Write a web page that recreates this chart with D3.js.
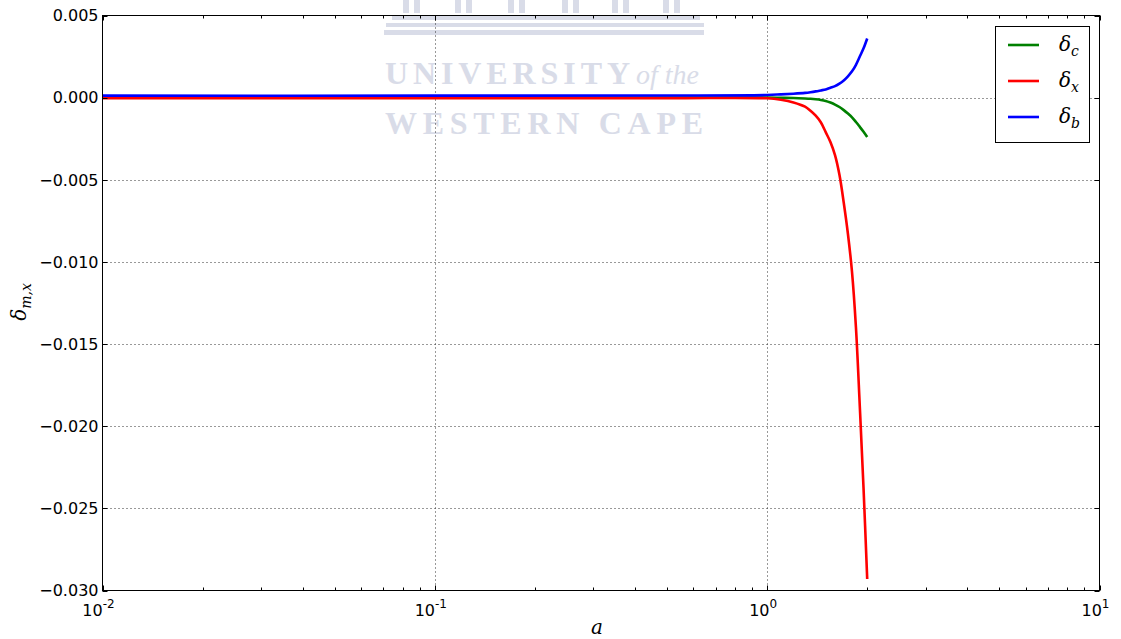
<!DOCTYPE html>
<html>
<head>
<meta charset="utf-8">
<script src="https://cdn.jsdelivr.net/npm/d3@7"></script>
<style>
  body { margin: 0; background: #fff; }
  svg { display: block; }
</style>
</head>
<body>
<svg id="chart" width="1121" height="639"></svg>
<script>
// scale factor a
var aVals = [0.01, 0.1, 0.5, 1.0, 1.1, 1.2, 1.3, 1.35, 1.4, 1.45, 1.5, 1.55, 1.6, 1.65, 1.7, 1.75, 1.8, 1.85, 1.9, 1.95, 2.0];
var deltaC = [0, 0, 0, 0, -0.00001, -0.00002, -0.00005, -0.00007, -0.0001, -0.00014, -0.0002, -0.0003, -0.00042, -0.00057, -0.00076, -0.00097, -0.0012, -0.00148, -0.00178, -0.00208, -0.0024];
var deltaX = [-0.00003, -0.00003, -0.00003, -0.00004, -0.00013, -0.00029, -0.00055, -0.0008, -0.0011, -0.0015, -0.0021, -0.0027, -0.0035, -0.0047, -0.0064, -0.0083, -0.0106, -0.014, -0.0188, -0.0238, -0.0293];
var deltaB = [0.00012, 0.00012, 0.00013, 0.00016, 0.0002, 0.00024, 0.00029, 0.00033, 0.00038, 0.00044, 0.0005, 0.0006, 0.0007, 0.00085, 0.00105, 0.0013, 0.0016, 0.002, 0.0025, 0.003, 0.0036];

var seriesNames = ["c", "x", "b"];
var seriesColors = ["#008000", "#ff0000", "#0000ff"];
var yTicks = [0.005, 0, -0.005, -0.010, -0.015, -0.020, -0.025, -0.030];
var xTicks = [0.01, 0.1, 1, 10];
var xTickExp = ["-2", "-1", "0", "1"];

var svg = d3.select("#chart"),
    pL = 102.5, pR = 1099.5, pT = 15.5, pB = 590.5;

var x = d3.scaleLog().domain([0.01, 10]).range([pL, pR]);
var y = d3.scaleLinear().domain([-0.030, 0.005]).range([pB, pT]);

// watermark
var wm = svg.append("g").attr("fill", "#d9dce8");
[403, 455, 508, 562, 612, 663].forEach(function (px) {
    wm.append("rect").attr("x", px).attr("y", 0).attr("width", 6).attr("height", 13);
    wm.append("rect").attr("x", px + 11).attr("y", 0).attr("width", 6).attr("height", 13);
});
wm.append("rect").attr("x", 392).attr("y", 15).attr("width", 308).attr("height", 5);
wm.append("rect").attr("x", 386).attr("y", 23).attr("width", 318).attr("height", 4);
wm.append("rect").attr("x", 384).attr("y", 30).attr("width", 320).attr("height", 5);
wm.append("text").attr("x", 385).attr("y", 84)
    .attr("font-family", "Liberation Serif, serif").attr("font-weight", "bold")
    .attr("font-size", 32).attr("textLength", 245).attr("lengthAdjust", "spacing")
    .text("UNIVERSITY");
wm.append("text").attr("x", 636).attr("y", 84)
    .attr("font-family", "Liberation Serif, serif").attr("font-style", "italic")
    .attr("font-size", 28).text("of the");
wm.append("text").attr("x", 385).attr("y", 134)
    .attr("font-family", "Liberation Serif, serif").attr("font-weight", "bold")
    .attr("font-size", 32).attr("textLength", 318).attr("lengthAdjust", "spacing")
    .text("WESTERN CAPE");

// grid
var grid = svg.append("g").attr("stroke", "#000").attr("stroke-width", 1)
    .attr("stroke-dasharray", "1,3").attr("opacity", 0.8);
xTicks.slice(1, -1).forEach(function (t) {
    grid.append("line").attr("x1", Math.round(x(t)) + 0.5).attr("x2", Math.round(x(t)) + 0.5)
        .attr("y1", pT).attr("y2", pB);
});
yTicks.slice(1, -1).forEach(function (t) {
    grid.append("line").attr("y1", Math.round(y(t)) + 0.5).attr("y2", Math.round(y(t)) + 0.5)
        .attr("x1", pL).attr("x2", pR);
});

// lines
var line = d3.line()
    .x(function (d) { return x(d[0]); })
    .y(function (d) { return y(d[1]); })
    .curve(d3.curveCatmullRom.alpha(0.5));

[deltaC, deltaX, deltaB].forEach(function (vals, i) {
    svg.append("path")
        .datum(aVals.map(function (a, j) { return [a, vals[j]]; }))
        .attr("fill", "none")
        .attr("stroke", seriesColors[i])
        .attr("stroke-width", 2.6)
        .attr("d", line);
});

// ticks (inward, mirrored)
var tk = svg.append("g").attr("stroke", "#000").attr("stroke-width", 1);
var minor = [];
for (var e = -2; e < 1; e++) {
    for (var m = 2; m < 10; m++) minor.push(m * Math.pow(10, e));
}
minor.forEach(function (t) {
    var px = Math.round(x(t)) + 0.5;
    tk.append("line").attr("x1", px).attr("x2", px).attr("y1", pB).attr("y2", pB - 3);
    tk.append("line").attr("x1", px).attr("x2", px).attr("y1", pT).attr("y2", pT + 3);
});
xTicks.forEach(function (t) {
    var px = Math.round(x(t)) + 0.5;
    tk.append("line").attr("x1", px).attr("x2", px).attr("y1", pB).attr("y2", pB - 5);
    tk.append("line").attr("x1", px).attr("x2", px).attr("y1", pT).attr("y2", pT + 5);
});
yTicks.forEach(function (t) {
    var py = Math.round(y(t)) + 0.5;
    tk.append("line").attr("x1", pL).attr("x2", pL + 5).attr("y1", py).attr("y2", py);
    tk.append("line").attr("x1", pR).attr("x2", pR - 5).attr("y1", py).attr("y2", py);
});

// frame
svg.append("rect").attr("x", pL).attr("y", pT)
    .attr("width", pR - pL).attr("height", pB - pT)
    .attr("fill", "none").attr("stroke", "#000").attr("stroke-width", 1);

// tick labels
var fmt = d3.format(".3f");
svg.append("g").selectAll("text").data(yTicks).enter().append("text")
    .attr("x", pL - 4)
    .attr("y", function (d) { return y(d); })
    .attr("dy", "0.36em")
    .attr("text-anchor", "end")
    .attr("font-family", "DejaVu Sans, sans-serif")
    .attr("font-size", 16)
    .text(function (d) { return fmt(d).replace("-", "\u2212"); });

var xl = svg.append("g").selectAll("text").data(xTicks).enter().append("text")
    .attr("x", function (d) { return x(d) - 4; })
    .attr("y", 616)
    .attr("text-anchor", "middle")
    .attr("font-family", "DejaVu Sans, sans-serif")
    .attr("font-size", 16);
xl.append("tspan").text("10");
xl.append("tspan").attr("dy", -8).attr("font-size", 12)
    .text(function (d, i) { return xTickExp[i]; });

// axis labels
svg.append("text")
    .attr("x", 597).attr("y", 634)
    .attr("text-anchor", "middle")
    .attr("font-family", "DejaVu Serif, serif")
    .attr("font-style", "italic")
    .attr("font-size", 20)
    .text("a");

var yl = svg.append("text")
    .attr("transform", "translate(26,302) rotate(-90)")
    .attr("text-anchor", "middle")
    .attr("font-family", "DejaVu Serif, serif")
    .attr("font-style", "italic")
    .attr("font-size", 20);
yl.append("tspan").text("\u03b4");
yl.append("tspan").attr("dy", 5).attr("font-size", 14).text("m,x");

// legend
var lg = svg.append("g");
lg.append("rect").attr("x", 995.5).attr("y", 26.5).attr("width", 94).attr("height", 116)
    .attr("fill", "#fff").attr("stroke", "#000").attr("stroke-width", 1);
seriesNames.forEach(function (n, i) {
    var ly = 45 + i * 36;
    lg.append("line").attr("x1", 1008).attr("x2", 1039).attr("y1", ly).attr("y2", ly)
        .attr("stroke", seriesColors[i]).attr("stroke-width", 2.6);
    var t = lg.append("text").attr("x", 1059).attr("y", ly + 6)
        .attr("font-family", "DejaVu Serif, serif").attr("font-style", "italic")
        .attr("font-size", 20);
    t.append("tspan").text("\u03b4");
    t.append("tspan").attr("dy", 5).attr("font-size", 14).text(n);
});
</script>
</body>
</html>
